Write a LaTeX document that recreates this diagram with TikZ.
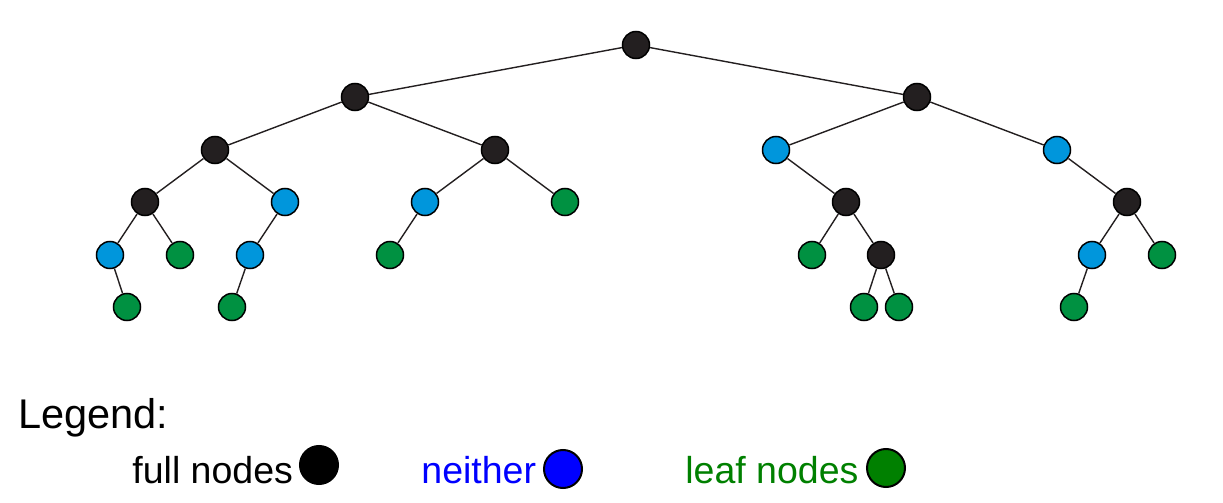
\documentclass[tikz,border=0pt]{standalone}
\usepackage{fontspec}
\setmainfont{Liberation Sans}
\definecolor{fullc}{HTML}{231F20}
\definecolor{neitherc}{HTML}{0096DC}
\definecolor{leafc}{HTML}{009141}
\definecolor{lgblue}{RGB}{0,0,255}
\definecolor{lggreen}{RGB}{0,128,0}
\begin{document}
\begin{tikzpicture}[x=0.5pt,y=-0.5pt,
  tn/.style={circle,draw=black,line width=0.75pt,minimum size=13.5pt,inner sep=0pt},
  full/.style={tn,fill=fullc},
  neither/.style={tn,fill=neitherc},
  leaf/.style={tn,fill=leafc},
  edge/.style={draw=fullc,line width=0.7pt},
  lgtext/.style={anchor=base west,inner sep=0pt,font=\fontsize{18.75pt}{22pt}\selectfont},
  lgdot/.style={circle,draw=black,line width=1pt,minimum size=19pt,inner sep=0pt}]
\useasboundingbox (0,0) rectangle (1223,503);
% nodes
\node[full] (r) at (636,45) {};
\node[full] (a) at (355,97) {};
\node[full] (b) at (917,97) {};
\node[full] (aa) at (215,150) {};
\node[full] (ab) at (495,150) {};
\node[neither] (ba) at (776,150) {};
\node[neither] (bb) at (1057,150) {};
\node[full] (aaa) at (145,202) {};
\node[neither] (aab) at (285,202) {};
\node[neither] (aba) at (425,202) {};
\node[leaf] (abb) at (565,202) {};
\node[full] (bab) at (846,202) {};
\node[full] (bbb) at (1127,202) {};
\node[neither] (aaaa) at (110,255) {};
\node[leaf] (aaab) at (180,255) {};
\node[neither] (aaba) at (250,255) {};
\node[leaf] (abaa) at (390,255) {};
\node[leaf] (baba) at (812,255) {};
\node[full] (babb) at (881,255) {};
\node[neither] (bbba) at (1092,255) {};
\node[leaf] (bbbb) at (1162,255) {};
\node[leaf] (aaaaa) at (127,307) {};
\node[leaf] (aabaa) at (232,307) {};
\node[leaf] (babba) at (864,307) {};
\node[leaf] (babbb) at (899,307) {};
\node[leaf] (bbbaa) at (1074,307) {};
% edges
\foreach \p/\c in {r/a,r/b,a/aa,a/ab,b/ba,b/bb,aa/aaa,aa/aab,ab/aba,ab/abb,ba/bab,bb/bbb,
  aaa/aaaa,aaa/aaab,aab/aaba,aba/abaa,bab/baba,bab/babb,bbb/bbba,bbb/bbbb,
  aaaa/aaaaa,aaba/aabaa,babb/babba,babb/babbb,bbba/bbbaa}
  \draw[edge] (\p) -- (\c);
% legend
\node[anchor=base west,inner sep=0pt,font=\fontsize{20.75pt}{24pt}\selectfont] (lg) at (18,428) {Legend:};
\node[lgtext] (t1) at (132,483) {full nodes};
\node[lgdot,fill=black] (d1) at (319,465) {};
\node[lgtext,text=lgblue] (t2) at (421,483) {neither};
\node[lgdot,fill=lgblue] (d2) at (563,469) {};
\node[lgtext,text=lggreen] (t3) at (685,483) {leaf nodes};
\node[lgdot,fill=lggreen] (d3) at (886,468) {};
\end{tikzpicture}
\end{document}
